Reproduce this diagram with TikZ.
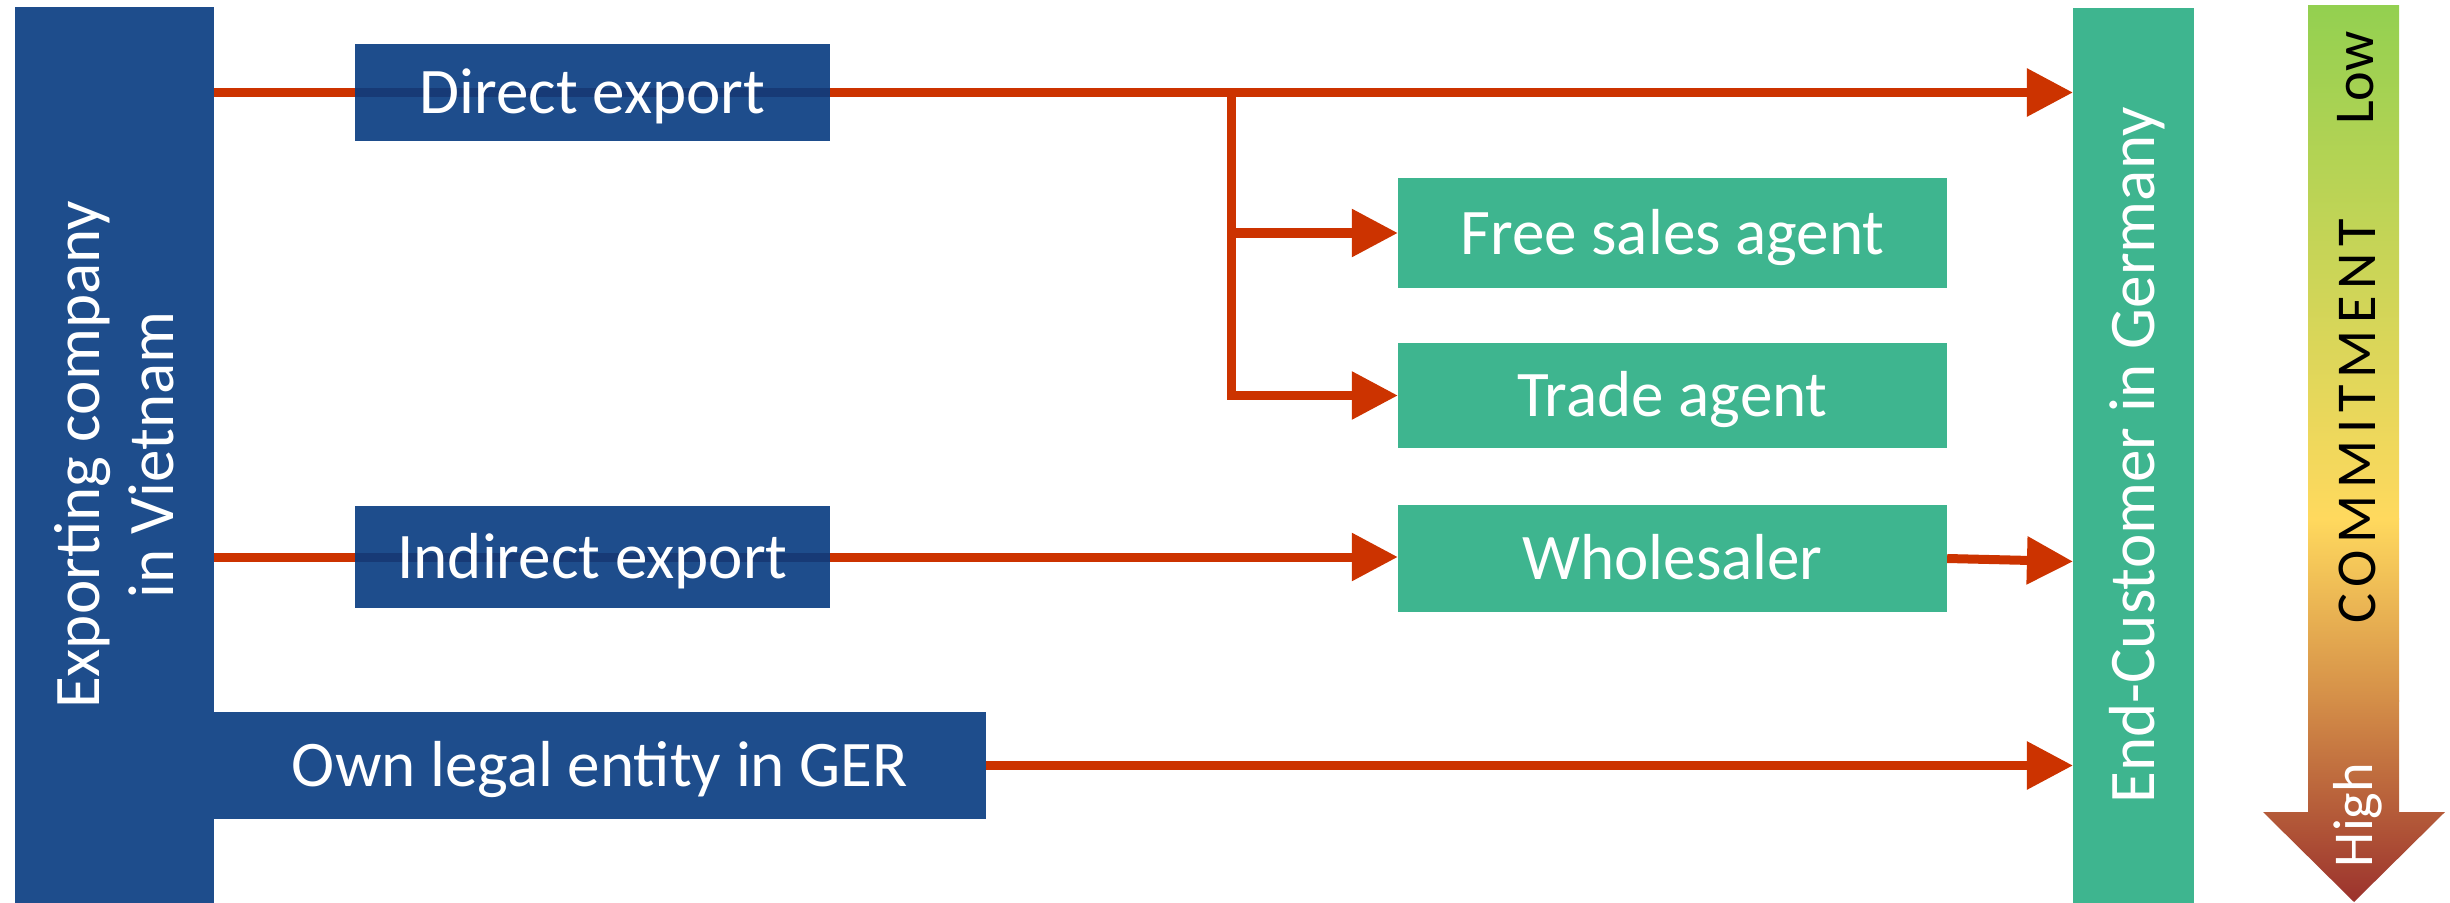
\documentclass[tikz,border=0pt]{standalone}
\usepackage{fontspec}
\setmainfont{Carlito}
\newfontfamily\spacedfont[LetterSpace=12]{Carlito}
\usetikzlibrary{arrows.meta,calc}
\definecolor{cblue}{RGB}{30,77,140}
\definecolor{cband}{RGB}{23,58,118}
\definecolor{cteal}{RGB}{62,181,143}
\definecolor{cred}{RGB}{204,51,0}
\definecolor{cgreen}{RGB}{146,208,80}
\definecolor{cyellow}{RGB}{255,217,94}
\definecolor{corange}{RGB}{212,142,72}
\definecolor{cdark}{RGB}{155,50,45}
\pgfdeclarelayer{bg}
\pgfsetlayers{bg,main}
\begin{document}
\begin{tikzpicture}[x=0.01cm, y=-0.01cm,
  box/.style={rectangle, inner sep=0pt, outer sep=0pt},
  bluebox/.style={box, fill=cblue},
  tealbox/.style={box, fill=cteal},
  lbl/.style={text=white, font=\fontsize{18.5}{21}\selectfont, text height=12pt, text depth=0pt},
  lblm/.style={text=white, font=\fontsize{18.5}{21}\selectfont, inner sep=0pt, align=center},
  conn/.style={draw=cred, line width=0.09cm},
  arr/.style={conn, -{Triangle[length=0.46cm, width=0.46cm]}},
  band/.style={path picture={\fill[cband] ($(path picture bounding box.west)+(0,-4.5)$) rectangle ($(path picture bounding box.east)+(0,4.5)$);}},
  ctext/.style={rotate=90, inner sep=0pt, font=\fontsize{16}{19}\selectfont, text height=10.3pt, text depth=0pt}
]
\useasboundingbox (0,0) rectangle (2450,903);

% main boxes
\node[bluebox, minimum width=1.99cm, minimum height=8.96cm] (comp) at (114.5,455) {};
\node[lblm, rotate=90] (comptext) at (comp.center) {Exporting company\\in Vietnam};

\node[tealbox, minimum width=1.21cm, minimum height=8.95cm] (endc) at (2133.5,455.5) {};
\node[lbl, rotate=90, inner sep=0pt] (endctext) at (endc.center) {End-Customer in Germany};

\node[bluebox, band, lbl, minimum width=4.75cm, minimum height=0.97cm] (dexp) at (592.5,92.5) {Direct export};
\node[bluebox, band, lbl, minimum width=4.75cm, minimum height=1.01cm] (iexp) at (592.5,557) {Indirect export};
\node[bluebox, lbl, minimum width=7.72cm, minimum height=1.07cm] (own) at (600,765.5) {Own legal entity in GER};

\node[tealbox, lbl, minimum width=5.49cm, minimum height=1.10cm] (free) at (1672.5,233) {Free sales agent};
\node[tealbox, lbl, minimum width=5.49cm, minimum height=1.05cm] (trade) at (1672.5,395.5) {Trade agent};
\node[tealbox, lbl, minimum width=5.49cm, minimum height=1.07cm] (whole) at (1672.5,558.5) {Wholesaler};

% connectors
\coordinate (br) at (1231,92.5);
\begin{pgfonlayer}{bg}
\draw[arr] (comp.east |- dexp) -- (endc.west |- dexp);
\draw[arr] (br) |- (trade.west);
\draw[arr] (br |- free.west) -- (free.west);
\draw[arr] (comp.east |- iexp) -- (whole.west |- iexp);
\draw[arr] (whole.east) -- ($(endc.west |- whole)+(0,3)$);
\draw[arr] (own.east) -- (endc.west |- own);
\end{pgfonlayer}

% commitment arrow
\begin{scope}
\clip (2308,5) -- (2399,5) -- (2399,812) -- (2445,812) -- (2354,902) -- (2263,812) -- (2308,812) -- cycle;
\shade[top color=cgreen, bottom color=cyellow] (2250,0) rectangle (2450,519);
\shade[top color=cyellow, bottom color=corange] (2250,518) rectangle (2450,701);
\shade[top color=corange, bottom color=cdark] (2250,700) rectangle (2450,903);
\end{scope}
\node[ctext] (low) at (2355,78) {Low};
\node[ctext, font=\spacedfont\fontsize{16}{19}\selectfont] (cmt) at (2357,421) {COMMITMENT};
\node[ctext, text=white] (high) at (2354,815) {High};
\end{tikzpicture}
\end{document}
